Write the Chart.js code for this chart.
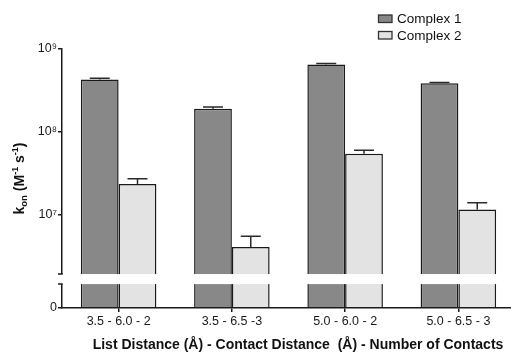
<!DOCTYPE html>
<html>
<head>
<meta charset="utf-8">
<script src="https://cdn.jsdelivr.net/npm/chart.js@4/dist/chart.umd.min.js"></script>
<style>
  html, body { margin: 0; padding: 0; background: #fff; overflow: hidden; }
  #wrap { width: 515px; height: 352px; position: relative; }
</style>
</head>
<body>
<div id="wrap"><canvas id="chart"></canvas></div>
<script>
// Association rate constants for the two complexes under each clustering criterion
const categories = ['3.5 - 6.0 - 2', '3.5 - 6.5 -3', '5.0 - 6.0 - 2', '5.0 - 6.5 - 3'];
const seriesNames = ['Complex 1', 'Complex 2'];
const complex1 = [4.3e8, 1.9e8, 6.5e8, 3.85e8];
const complex1Err = [0.15e8, 0.1e8, 0.2e8, 0.1e8];
const complex2 = [2.35e7, 4.1e6, 5.45e7, 1.16e7];
const complex2Err = [0.37e7, 1.4e6, 0.55e7, 0.24e7];
const yTickValues = [1e7, 1e8, 1e9];
const yTickLabels = ['10\u2077', '10\u2078', '10\u2079'];
const yZeroLabel = '0';
const xTitle = 'List Distance (\u00C5) - Contact Distance  (\u00C5) - Number of Contacts';

// Log axis whose floor is labelled "0"; a gap is cut just above the floor.
const axisFloor = Math.pow(10, 5.876);
const axisCeiling = 1e9;
const breakLow = 1.46e6;
const breakHigh = 1.93e6;

const FONT = '"Liberation Sans", Arial, Helvetica, sans-serif';
const INK = '#1a1a1a';

const errors = [complex1Err, complex2Err];

// Upper error bars drawn on top of each bar
const errorBars = {
  id: 'errorBars',
  afterDatasetsDraw(chart) {
    const ctx = chart.ctx;
    const y = chart.scales.y;
    ctx.save();
    ctx.strokeStyle = '#2a2a2a';
    ctx.lineWidth = 1.5;
    chart.data.datasets.forEach((ds, i) => {
      const meta = chart.getDatasetMeta(i);
      meta.data.forEach((bar, j) => {
        const top = y.getPixelForValue(ds.data[j] + errors[i][j]);
        ctx.beginPath();
        ctx.moveTo(bar.x, bar.y);
        ctx.lineTo(bar.x, top);
        ctx.moveTo(bar.x - 10, top);
        ctx.lineTo(bar.x + 10, top);
        ctx.stroke();
      });
    });
    ctx.restore();
  }
};

// Axis break, legend and the y-axis title with sub/superscripts
const decorations = {
  id: 'decorations',
  afterDraw(chart) {
    const ctx = chart.ctx;
    const y = chart.scales.y;
    const area = chart.chartArea;
    const gTop = y.getPixelForValue(breakHigh);
    const gBot = y.getPixelForValue(breakLow);
    ctx.save();
    ctx.fillStyle = '#fff';
    ctx.fillRect(area.left - 3, gTop, chart.width - area.left + 3, gBot - gTop);
    ctx.strokeStyle = INK;
    ctx.lineWidth = 1.5;
    ctx.beginPath();
    ctx.moveTo(area.left - 4, gTop); ctx.lineTo(area.left + 0.75, gTop);
    ctx.moveTo(area.left - 4, gBot); ctx.lineTo(area.left + 0.75, gBot);
    ctx.stroke();

    // legend
    ctx.font = '13.5px ' + FONT;
    ctx.textBaseline = 'middle';
    ctx.textAlign = 'left';
    chart.data.datasets.forEach((ds, i) => {
      const by = 15 + i * 16.5;
      ctx.fillStyle = ds.backgroundColor;
      ctx.fillRect(378.5, by, 13.5, 7.5);
      ctx.lineWidth = 1.3;
      ctx.strokeStyle = '#333';
      ctx.strokeRect(378.5, by, 13.5, 7.5);
      ctx.fillStyle = '#111';
      ctx.fillText(ds.label, 397, by + 4.5);
    });

    // x-axis title
    ctx.font = 'bold 14px ' + FONT;
    ctx.textAlign = 'center';
    ctx.textBaseline = 'middle';
    ctx.fillStyle = '#111';
    ctx.fillText(xTitle, 298, 345.5);

    // y-axis title: k_on (M^-1 s^-1)
    const parts = [
      ['k', 'bold 14px', 0],
      ['on', 'bold 9.5px', 3.5],
      [' (M', 'bold 14px', 0],
      ['-1', 'bold 9px', -6],
      [' s', 'bold 14px', 0],
      ['-1', 'bold 9px', -6],
      [')', 'bold 14px', 0]
    ];
    ctx.translate(23.5, 178.5);
    ctx.rotate(-Math.PI / 2);
    ctx.textAlign = 'left';
    ctx.textBaseline = 'alphabetic';
    let total = 0;
    parts.forEach(p => { ctx.font = p[1] + ' ' + FONT; total += ctx.measureText(p[0]).width; });
    let x = -total / 2;
    parts.forEach(p => {
      ctx.font = p[1] + ' ' + FONT;
      ctx.fillText(p[0], x, p[2]);
      x += ctx.measureText(p[0]).width;
    });
    ctx.restore();
  }
};

new Chart(document.getElementById('chart'), {
  type: 'bar',
  data: {
    labels: categories,
    datasets: [
      { label: seriesNames[0], data: complex1, backgroundColor: '#888888' },
      { label: seriesNames[1], data: complex2, backgroundColor: '#e3e3e3' }
    ]
  },
  options: {
    responsive: true,
    maintainAspectRatio: false,
    animation: false,
    devicePixelRatio: 1,
    layout: { padding: { top: 49, left: 0, right: 0, bottom: 0 } },
    datasets: {
      bar: {
        categoryPercentage: 0.667,
        barPercentage: 1.0,
        borderColor: INK,
        borderWidth: 1.5
      }
    },
    plugins: {
      legend: { display: false },
      tooltip: { enabled: false }
    },
    scales: {
      x: {
        offset: true,
        afterFit: s => { s.height = 44; },
        ticks: { font: { family: FONT, size: 12.5 }, color: '#1a1a1a', padding: 2, maxRotation: 0 },
        grid: { offset: false, drawOnChartArea: false, tickLength: 4, color: INK, lineWidth: 1.5 },
        border: { color: INK, width: 1.5, z: 1 }
      },
      y: {
        type: 'logarithmic',
        min: axisFloor,
        max: axisCeiling,
        afterFit: s => { s.width = 62; },
        afterBuildTicks: s => {
          s.ticks = [axisFloor].concat(yTickValues).map(v => ({ value: v }));
        },
        ticks: {
          autoSkip: false,
          padding: 1,
          font: { family: FONT, size: 12.5 },
          color: '#1a1a1a',
          callback: v => v === axisFloor ? yZeroLabel : yTickLabels[yTickValues.indexOf(v)]
        },
        grid: { drawOnChartArea: false, tickLength: 4, color: INK, lineWidth: 1.5 },
        border: { color: INK, width: 1.5, z: 1 }
      }
    }
  },
  plugins: [errorBars, decorations]
});
</script>
</body>
</html>
